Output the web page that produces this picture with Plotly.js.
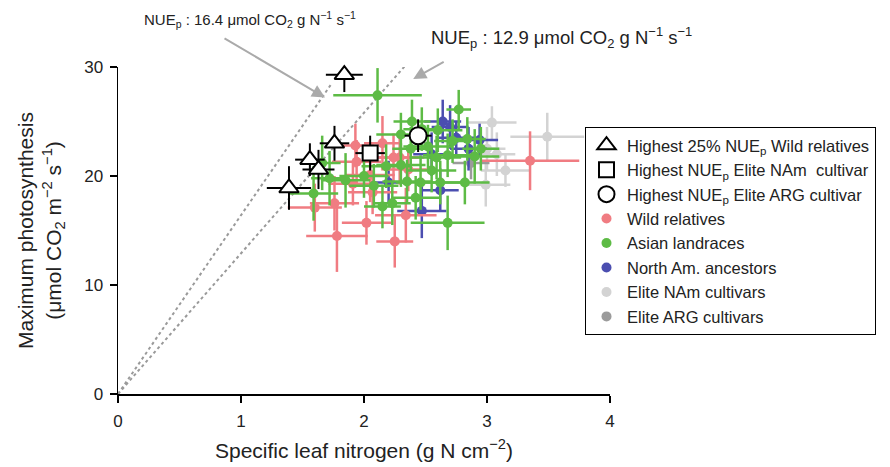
<!DOCTYPE html>
<html>
<head>
<meta charset="utf-8">
<script src="https://cdn.plot.ly/plotly-3.0.1.min.js"></script>
<style>html,body{margin:0;padding:0;background:#fff;}#chart{width:890px;height:467px;}</style>
</head>
<body>
<div id="chart"></div>
<script>
// ---- data ----
var wildX  = [1.60,1.76,2.02,1.78,2.25,2.34,2.36,2.29,1.94,2.07,2.05,2.15,3.35,1.93,2.24,1.91];
var wildY  = [17.1,17.5,15.7,14.5,14.0,16.4,20.6,21.7,21.3,18.5,20.1,23.0,21.4,22.8,21.7,19.3];
var wildXe = [0.22,0.20,0.20,0.25,0.15,0.25,0.20,0.20,0.20,0.20,0.20,0.15,0.40,0.15,0.20,0.20];
var wildYe = [2.2,2.5,2.0,3.3,2.4,2.5,2.0,2.5,2.0,2.0,2.5,2.5,2.7,2.0,2.2,2.0];

var asianX  = [2.11,2.77,2.39,2.84,2.90,2.68,2.59,2.46,2.62,2.82,2.68,1.59,2.15,2.23,1.85,2.08,2.18,2.30,2.38,2.52,2.47,2.00,1.72,2.42,2.55,2.35,2.72,2.60,2.30,2.95,1.66];
var asianY  = [27.4,26.1,25.0,23.4,21.8,21.9,21.7,19.4,19.4,19.4,15.7,18.4,17.2,17.5,19.6,19.1,20.9,21.0,22.5,22.7,24.3,20.0,19.8,18.0,20.5,19.5,23.2,24.2,23.8,22.5,21.2];
var asianXe = [0.36,0.10,0.15,0.15,0.20,0.20,0.20,0.20,0.20,0.20,0.30,0.20,0.15,0.15,0.20,0.20,0.20,0.20,0.15,0.20,0.15,0.20,0.15,0.20,0.20,0.20,0.15,0.20,0.20,0.15,0.15];
var asianYe = [2.5,1.8,2.0,2.0,2.5,2.0,2.0,2.5,2.0,2.0,2.5,2.5,2.0,2.0,2.5,2.0,2.0,2.0,2.0,2.0,2.0,2.0,2.5,2.0,2.0,2.0,2.0,2.0,2.0,2.0,2.5];

var naX  = [2.64,2.70,2.94,2.62,2.47,2.20,2.75,2.55,2.85];
var naY  = [25.0,24.5,23.3,18.7,16.8,19.4,23.5,22.0,22.5];
var naXe = [0.15,0.15,0.15,0.15,0.20,0.15,0.15,0.15,0.15];
var naYe = [2.0,2.0,1.5,2.0,2.5,2.0,1.5,2.0,2.0];

var namX  = [3.04,3.49,3.15,2.99,3.00,3.08];
var namY  = [24.9,23.6,20.5,19.2,22.5,22.0];
var namXe = [0.20,0.30,0.20,0.20,0.15,0.15];
var namYe = [1.5,2.2,1.5,2.0,2.0,2.0];

var argX  = [2.87];
var argY  = [21.2];
var argXe = [0.15];
var argYe = [1.5];

var triX  = [1.84,1.76,1.56,1.63,1.39];
var triY  = [29.3,23.0,21.5,20.6,18.9];
var triXe = [0.15,0.12,0.12,0.13,0.18];
var triYe = [1.6,1.6,1.5,1.8,2.0];

var sqX = [2.05], sqY = [22.1], sqXe = [0.12], sqYe = [1.6];
var ciX = [2.44], ciY = [23.7], ciXe = [0.11], ciYe = [1.5];

var nueSlopes = [16.4, 12.9];
var nueEndX   = [1.73, 2.37];

// ---- build ----
function errTrace(name, x, y, xe, ye, color, rank) {
  return {
    type: 'scatter', mode: 'markers', name: name, x: x, y: y,
    marker: {color: color, size: 10},
    error_x: {type: 'data', array: xe, color: color, thickness: 2.5, width: 0},
    error_y: {type: 'data', array: ye, color: color, thickness: 2.5, width: 0},
    cliponaxis: false, legendrank: rank
  };
}
function blackTrace(name, x, y, xe, ye, sym, size, rank) {
  return {
    type: 'scatter', mode: 'markers', name: name, x: x, y: y,
    marker: {symbol: sym, size: size, color: '#ffffff', line: {color: '#000', width: 2}},
    error_x: {type: 'data', array: xe, color: '#000', thickness: 2, width: 0},
    error_y: {type: 'data', array: ye, color: '#000', thickness: 2, width: 0},
    cliponaxis: false, legendrank: rank
  };
}

var traces = [];
nueSlopes.forEach(function (s, i) {
  traces.push({
    type: 'scatter', mode: 'lines', x: [0, nueEndX[i]], y: [0, s * nueEndX[i]],
    line: {color: '#9a9a9a', width: 2, dash: 'dot'}, showlegend: false, hoverinfo: 'skip', cliponaxis: false
  });
});
traces.push(errTrace('Elite NAm cultivars', namX, namY, namXe, namYe, '#d3d3d3', 7));
traces.push(errTrace('Elite ARG cultivars', argX, argY, argXe, argYe, '#9b9b9b', 8));
traces.push(errTrace('North Am. ancestors', naX, naY, naXe, naYe, '#4b4eb0', 6));
traces.push(errTrace('Wild relatives', wildX, wildY, wildXe, wildYe, '#f07c82', 4));
traces.push(errTrace('Asian landraces', asianX, asianY, asianXe, asianYe, '#5dbb45', 5));
traces.push(blackTrace('Highest 25% NUE<sub>p</sub> Wild relatives', triX, triY, triXe, triYe, 'triangle-up', 17, 1));
traces.push(blackTrace('Highest NUE<sub>p</sub> Elite NAm  cultivar', sqX, sqY, sqXe, sqYe, 'square', 15, 2));
traces.push(blackTrace('Highest NUE<sub>p</sub> Elite ARG cultivar', ciX, ciY, ciXe, ciYe, 'circle', 17, 3));

var font = 'Liberation Sans, Arial, sans-serif';
var layout = {
  width: 890, height: 467,
  margin: {l: 118, r: 280, t: 67, b: 73, autoexpand: false},
  paper_bgcolor: '#fff', plot_bgcolor: '#fff',
  font: {family: font, size: 17, color: '#222'},
  showlegend: true,
  xaxis: {
    range: [0, 4], tickvals: [0, 1, 2, 3, 4], showgrid: false, zeroline: false,
    showline: true, linecolor: '#000', linewidth: 1.5, ticks: 'outside', ticklen: 7, tickwidth: 1.5, tickcolor: '#000',
    tickfont: {size: 17, color: '#222'}, fixedrange: true, ticklabelstandoff: 4,
    title: {text: 'Specific leaf nitrogen (g N cm<sup>−2</sup>)', font: {size: 21, color: '#222'}, standoff: 13}
  },
  yaxis: {
    range: [0, 30], tickvals: [0, 10, 20, 30], showgrid: false, zeroline: false,
    showline: true, linecolor: '#000', linewidth: 1.5, ticks: 'outside', ticklen: 7, tickwidth: 1.5, tickcolor: '#000',
    tickfont: {size: 17, color: '#222'}, fixedrange: true, ticklabelstandoff: 3,
    title: {text: 'Maximum photosynthesis<br>(μmol CO<sub>2</sub> m<sup>−2</sup> s<sup>−1</sup>)', font: {size: 21, color: '#222'}, standoff: 17}
  },
  legend: {
    xref: 'container', yref: 'container',
    x: 585 / 890, xanchor: 'left', y: 1 - 127 / 467, yanchor: 'top',
    bordercolor: '#000', borderwidth: 1, bgcolor: '#fff',
    font: {size: 16.5, color: '#222'}, tracegroupgap: 0, itemsizing: 'trace', itemwidth: 31
  },
  annotations: [
    {xref: 'paper', yref: 'paper', x: (250 - 118) / 492, y: (394 - 20) / 327, xanchor: 'center', yanchor: 'middle',
     text: 'NUE<sub>p</sub> : 16.4 μmol CO<sub>2</sub> g N<sup>−1</sup> s<sup>−1</sup>', showarrow: false, font: {size: 15, color: '#222'}},
    {xref: 'paper', yref: 'paper', x: (561 - 118) / 492, y: (394 - 37) / 327, xanchor: 'center', yanchor: 'middle',
     text: 'NUE<sub>p</sub> : 12.9 μmol CO<sub>2</sub> g N<sup>−1</sup> s<sup>−1</sup>', showarrow: false, font: {size: 18.5, color: '#222'}},
    {xref: 'x', yref: 'y', x: 1.683, y: 27.2, text: '', showarrow: true, ax: -102, ay: -60,
     arrowcolor: '#aaaaaa', arrowwidth: 2, arrowhead: 2, arrowsize: 1.3},
    {xref: 'x', yref: 'y', x: 2.40, y: 28.9, text: '', showarrow: true, ax: 32, ay: -18,
     arrowcolor: '#aaaaaa', arrowwidth: 2, arrowhead: 2, arrowsize: 1.3}
  ]
};

Plotly.newPlot('chart', traces, layout, {staticPlot: true});
</script>
</body>
</html>
